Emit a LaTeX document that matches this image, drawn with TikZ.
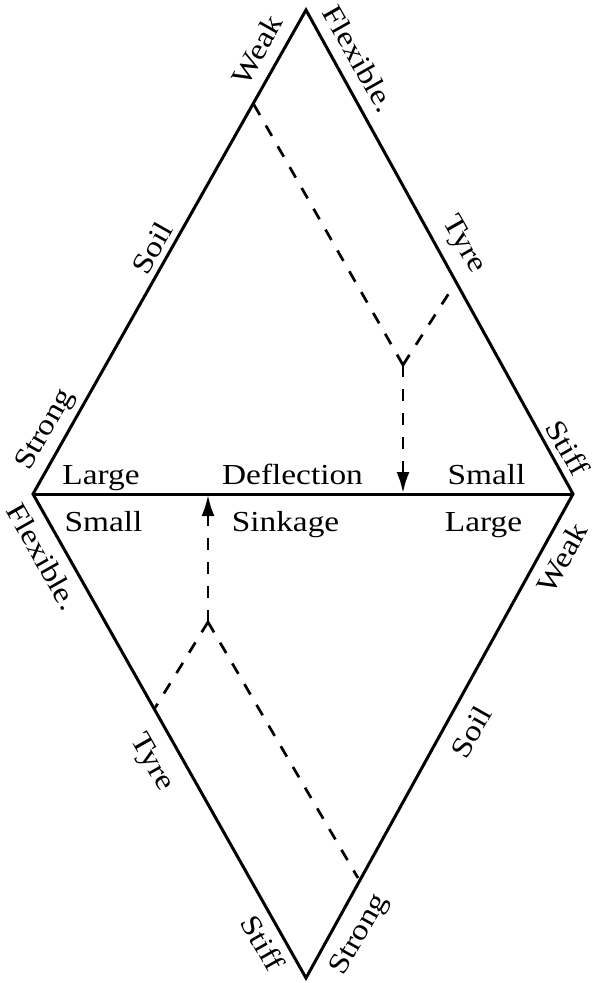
\documentclass[tikz,border=0pt]{standalone}
\usepackage{fontspec}
\setmainfont{Liberation Serif}[FakeStretch=1.15]
\usetikzlibrary{arrows.meta}
\begin{document}
\begin{tikzpicture}[x=1pt,y=-1pt,
  edge/.style={line width=3pt, line join=miter},
  dline/.style={line width=2.7pt, dash pattern=on 12pt off 12pt},
  arr/.style={-{Latex[length=21pt,width=13pt]}},
  lab/.style={font=\fontsize{29}{32}\selectfont, inner sep=0pt},
  ulab/.style={lab, rotate=60.5},
  dlab/.style={lab, rotate=-60.5},
  hlab/.style={lab, anchor=base},
  ]
\useasboundingbox (0,0) rectangle (593,983);
% vertices
\coordinate (T) at (306,10);
\coordinate (L) at (33,494);
\coordinate (R) at (573,494);
\coordinate (B) at (306,978);
\draw[edge] (T) -- (R) -- (B) -- (L) -- cycle;
\draw[edge] (L) -- (R);
% upper dashed path
\coordinate (J1) at (403,365);
\coordinate (U1) at (253,103);
\coordinate (U2) at (451,290);
\coordinate (A1) at (403,493);
\draw[dline] (J1) -- (U1);
\draw[dline] (J1) -- (U2);
\draw[dline, arr] (J1) -- (A1);
% lower dashed path
\coordinate (J2) at (208,622);
\coordinate (D1) at (155,708);
\coordinate (D2) at (358,878);
\coordinate (A2) at (208,495);
\draw[dline] (J2) -- (D1);
\draw[dline] (J2) -- (D2);
\draw[dline, arr] (J2) -- (A2);
% edge labels
\node[ulab] (w1) at (257,50) {Weak};
\node[ulab] (s1) at (152,248) {Soil};
\node[ulab] (st1) at (46,430) {Strong};
\node[dlab] (f1) at (359,59) {Flexible.};
\node[dlab] (t1) at (463,245) {Tyre};
\node[dlab] (sf1) at (568,448) {Stiff};
\node[dlab] (f2) at (43,557) {Flexible.};
\node[dlab] (t2) at (151,763) {Tyre};
\node[dlab] (sf2) at (263,943) {Stiff};
\node[ulab] (w2) at (562,558) {Weak};
\node[ulab] (s2) at (471,732) {Soil};
\node[ulab] (st2) at (360,935) {Strong};
% horizontal labels
\node[hlab] (lg1) at (101,484) {Large};
\node[hlab] (df) at (292.5,484) {Deflection};
\node[hlab] (sm1) at (486.5,484) {Small};
\node[hlab] (sm2) at (103.5,531) {Small};
\node[hlab] (sk) at (285.5,531) {Sinkage};
\node[hlab] (lg2) at (483.5,531) {Large};
\end{tikzpicture}
\end{document}
